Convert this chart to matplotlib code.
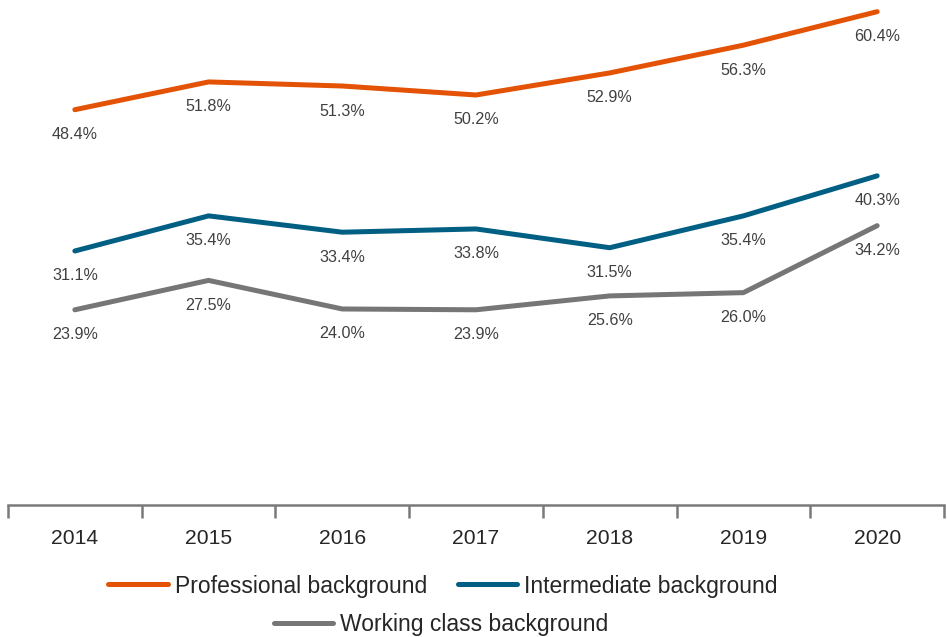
import matplotlib.pyplot as plt
from matplotlib.lines import Line2D

plt.rcParams['font.family'] = ['Liberation Sans', 'DejaVu Sans']

years = ["2014", "2015", "2016", "2017", "2018", "2019", "2020"]
professional = [48.4, 51.8, 51.3, 50.2, 52.9, 56.3, 60.4]
intermediate = [31.1, 35.4, 33.4, 33.8, 31.5, 35.4, 40.3]
working_class = [23.9, 27.5, 24.0, 23.9, 25.6, 26.0, 34.2]

series = [
    ("Professional background", professional, "#E35205"),
    ("Intermediate background", intermediate, "#005F83"),
    ("Working class background", working_class, "#767676"),
]

fig = plt.figure(figsize=(9.47, 6.37), dpi=100)
ax = fig.add_axes([8 / 947, 1 - 505 / 637, 936 / 947, 505 / 637])

x = list(range(len(years)))
for name, vals, col in series:
    ax.plot(x, vals, color=col, lw=3.6, solid_capstyle='round',
            solid_joinstyle='round', label=name)
    for xi, v in zip(x, vals):
        ax.annotate(f"{v:.1f}%", (xi, v), xytext=(0, -18),
                    textcoords='offset points', ha='center', va='center',
                    fontsize=11.6, color='#404040')

ax.set_xlim(-0.5, len(years) - 0.5)
ax.set_ylim(0, 61.83)
ax.set_yticks([])
for s in ['top', 'left', 'right']:
    ax.spines[s].set_visible(False)
ax.spines['bottom'].set_color('#7a7a7a')
ax.spines['bottom'].set_linewidth(1.8)

ax.set_xticks(x)
ax.set_xticklabels(years, fontsize=15.2, color='#262626')
ax.tick_params(axis='x', which='major', length=0, pad=17)
ax.set_xticks([i - 0.5 for i in range(len(years) + 1)], minor=True)
ax.tick_params(axis='x', which='minor', length=9.5, width=1.8,
               color='#7a7a7a', direction='out')

handles = [Line2D([], [], color=c, lw=3.6, solid_capstyle='round')
           for _, _, c in series]
names = [n for n, _, _ in series]

leg_kw = dict(frameon=False, fontsize=16.5, handlelength=2.6,
              handletextpad=0.3, columnspacing=1.35, labelcolor='#262626')
fig.legend(handles[:2], names[:2], ncol=2, loc='center',
           bbox_to_anchor=(443 / 947, 1 - 586 / 637), **leg_kw)
fig.legend(handles[2:], names[2:], ncol=1, loc='center',
           bbox_to_anchor=(441 / 947, 1 - 625 / 637), **leg_kw)

fig.savefig("out.png", dpi=100)
